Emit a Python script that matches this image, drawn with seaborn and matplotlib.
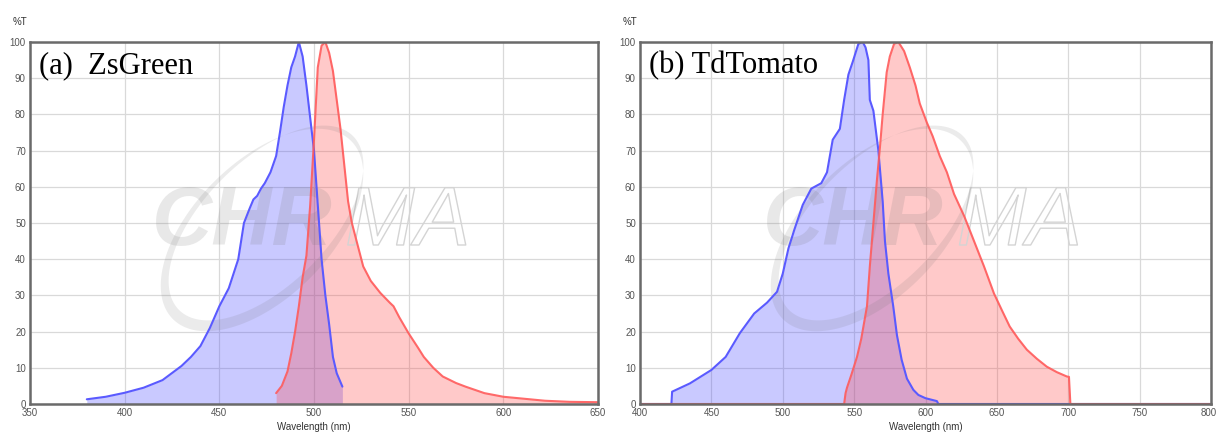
import numpy as np
import matplotlib
matplotlib.use("Agg")
import matplotlib.pyplot as plt
import matplotlib.patheffects as pe
import matplotlib.transforms as mtransforms
from matplotlib.path import Path
from matplotlib.patches import PathPatch
import seaborn as sns

# (a) ZsGreen
zs_ex_wl = [380, 390, 400, 410, 420, 430, 435, 440, 445, 450, 455, 460, 463, 466, 468, 470,
            472, 474, 477, 480, 482, 484, 486, 488, 490, 492, 494, 496, 498, 500, 502, 504,
            506, 508, 510, 512, 515]
zs_ex_val = [1.3, 2.0, 3.1, 4.5, 6.6, 10.5, 13, 16, 21, 27, 32, 40, 50, 54, 56.5, 57.5,
             59.5, 61, 64, 68.5, 75, 82, 88, 93, 96, 100, 96, 88, 79, 70, 55, 40,
             30, 22, 13, 8.5, 4.8]
zs_em_wl = [480, 483, 486, 488, 490, 492, 494, 496, 498, 500, 502, 504, 506, 508, 510, 512,
            514, 516, 518, 520, 523, 526, 530, 535, 540, 542, 545, 550, 555, 558, 563, 568,
            575, 580, 590, 600, 610, 622, 635, 650]
zs_em_val = [3, 5, 9, 14, 20, 27, 35, 41, 55, 73, 93, 99, 100, 97, 92, 84,
             76, 66, 56, 50, 44, 38, 34, 30.7, 28, 27, 24, 19.5, 15.5, 13, 10, 7.6,
             5.8, 4.8, 3, 2, 1.5, 0.9, 0.6, 0.5]

# (b) TdTomato
td_ex_wl = [400, 422, 422.5, 435, 450, 460, 470, 480, 489, 496, 500, 504, 508, 514, 520, 527,
            531, 535, 540, 543, 546, 549, 551, 553, 556, 558, 560, 561, 563.5, 567, 570, 571.6,
            574, 577.4, 580, 583.3, 587, 591.5, 595, 600, 608, 609, 800]
td_ex_val = [0, 0, 3.4, 5.7, 9.4, 13, 19.6, 25, 28, 31, 36, 43, 48, 55, 59.5, 61,
             64, 73, 76, 84, 91, 94.5, 97, 99.5, 100, 98.5, 95, 84, 81, 70, 56, 45,
             36, 27, 19, 12.2, 7, 3.9, 2.5, 1.6, 0.8, 0, 0]
td_em_wl = [400, 543, 544, 545, 548, 552, 555, 559, 561, 563.5, 566, 568, 570, 572.8, 575, 578,
            581, 585, 589, 593, 596, 601, 605, 610, 615, 620, 627, 634, 641, 648, 654, 659,
            665, 671, 678, 685, 692, 699, 700.5, 701.5, 800]
td_em_val = [0, 0, 3, 4.5, 8, 13, 18, 27, 38, 50, 62, 70.5, 80, 91.6, 96, 99.5,
             100, 97.5, 93, 88, 83, 77.7, 74, 68.5, 64, 58, 52, 45, 38, 30.5, 25.5, 21.4,
             18, 15, 12.5, 10.3, 8.8, 7.6, 7.5, 0, 0]

BLUE_LINE = "#5a5aff"
RED_LINE = "#ff5a5a"
BLUE_FILL = "#4040ff"
RED_FILL = "#ff4040"

sns.set_style("white")
plt.rcParams["font.family"] = ["Liberation Sans", "DejaVu Sans"]

fig = plt.figure(figsize=(12.16, 4.4), dpi=100)
ax1 = fig.add_axes([30 / 1216, 36 / 440, 568 / 1216, 362 / 440])
ax2 = fig.add_axes([640 / 1216, 36 / 440, 571 / 1216, 362 / 440])


def watermark(ax, w_px, h_px):
    # faint CHROMA logo: filled "CHR", swoosh, outlined "MA"
    ax.text(0.215, 0.50, "CHR", transform=ax.transAxes, fontsize=60, fontweight="bold",
            fontstyle="italic", color="0.45", alpha=0.16, ha="left", va="center", zorder=3)
    ax.text(0.555, 0.50, "MA", transform=ax.transAxes, fontsize=60, fontstyle="italic",
            color=(1, 1, 1, 0), ha="left", va="center", zorder=3,
            path_effects=[pe.Stroke(linewidth=1.0, foreground="#d4d4d4")])
    t = np.linspace(0, 2 * np.pi, 240)
    ang = np.deg2rad(45)

    def ell(cx, cy, a, b):
        x = cx + a * np.cos(t) * np.cos(ang) - b * np.sin(t) * np.sin(ang)
        y = cy + a * np.cos(t) * np.sin(ang) + b * np.sin(t) * np.cos(ang)
        return np.column_stack([x / w_px, y / h_px])

    outer = ell(232, 174, 126, 68)
    inner = ell(236, 181, 123, 62)[::-1]
    verts = np.vstack([outer, outer[:1], inner, inner[:1]])
    codes = ([Path.MOVETO] + [Path.LINETO] * (len(outer) - 1) + [Path.CLOSEPOLY]
             + [Path.MOVETO] + [Path.LINETO] * (len(inner) - 1) + [Path.CLOSEPOLY])
    ax.add_patch(PathPatch(Path(verts, codes), transform=ax.transAxes, facecolor="0.45",
                           edgecolor="none", alpha=0.14, zorder=3))


def panel(ax, ex_wl, ex_val, em_wl, em_val, xlim, title, w_px):
    ax.fill_between(ex_wl, 0, ex_val, color=BLUE_FILL, alpha=0.28, lw=0, zorder=2)
    ax.fill_between(em_wl, 0, em_val, color=RED_FILL, alpha=0.28, lw=0, zorder=2)
    watermark(ax, w_px, 362)
    sns.lineplot(x=ex_wl, y=ex_val, ax=ax, color=BLUE_LINE, lw=1.5, zorder=4)
    sns.lineplot(x=em_wl, y=em_val, ax=ax, color=RED_LINE, lw=1.5, alpha=0.9, zorder=5)
    ax.set_xlim(*xlim)
    ax.set_ylim(0, 100)
    ax.set_xticks(np.arange(xlim[0], xlim[1] + 1, 50))
    ax.set_yticks(np.arange(0, 101, 10))
    ax.grid(True, color="#d9d9d9", lw=0.9)
    ax.set_axisbelow(True)
    ax.tick_params(length=0, pad=3, labelsize=7, labelcolor="#555555")
    for s in ax.spines.values():
        s.set_color("#6a6a6a")
        s.set_linewidth(1.8)
        s.set_zorder(6)
    ax.set_xlabel("Wavelength (nm)", fontsize=7, color="#333333", labelpad=3)
    ax.set_ylabel("")
    ax.text(-0.03, 1.055, "%T", transform=ax.transAxes, fontsize=7, color="#333333",
            ha="left", va="center")
    ax.text(0.016, 0.975, title, transform=ax.transAxes, fontsize=22, va="top", ha="left",
            family=["Liberation Serif", "DejaVu Serif"], color="black", zorder=7)


panel(ax1, zs_ex_wl, zs_ex_val, zs_em_wl, zs_em_val, (350, 650), "(a)  ZsGreen", 568)
panel(ax2, td_ex_wl, td_ex_val, td_em_wl, td_em_val, (400, 800), "(b) TdTomato", 571)

# keep the last tick label of the right panel inside the figure
fig.canvas.draw()
last = ax2.get_xticklabels()[-1]
last.set_horizontalalignment("right")
last.set_transform(last.get_transform()
                   + mtransforms.ScaledTranslation(4 / 72, 0, fig.dpi_scale_trans))

fig.savefig("out.png", dpi=100)
